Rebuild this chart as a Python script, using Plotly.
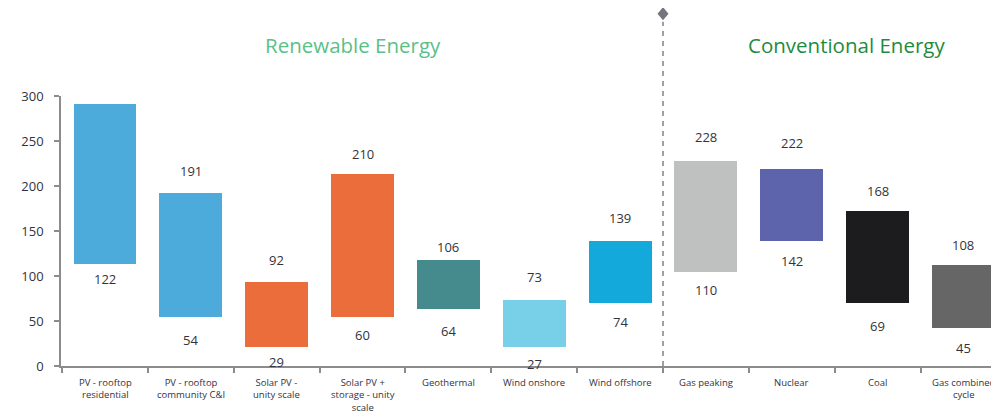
import plotly.graph_objects as go

categories = ["PV - rooftop<br>residential", "PV - rooftop<br>community C&I", "Solar PV -<br>unity scale",
              "Solar PV +<br>storage - unity<br>scale", "Geothermal", "Wind onshore", "Wind offshore",
              "Gas peaking", "Nuclear", "Coal", "Gas combined<br>cycle"]
bar_low = [113, 54, 21, 55, 63, 21, 70, 104, 139, 70, 42]
bar_high = [291, 192, 93, 213, 118, 73, 139, 228, 219, 172, 112]
label_high = [284, 191, 92, 210, 106, 73, 139, 228, 222, 168, 108]
label_low = [122, 54, 29, 60, 64, 27, 74, 110, 142, 69, 45]
colors = ["#4DABDC", "#4DABDC", "#EC6D3C", "#EC6D3C", "#458A8C", "#78CFE8", "#13A9DB",
          "#BFC1C0", "#5D64AC", "#1C1C1E", "#666666"]
y_ticks = [0, 50, 100, 150, 200, 250, 300]
group_titles = ["Renewable Energy", "Conventional Energy"]

idx = list(range(len(categories)))
FONT = "Open Sans"
TXT = "#333340"
AXC = "#8C8C8C"

fig = go.Figure()
fig.add_trace(go.Bar(
    x=idx, y=[h - l for h, l in zip(bar_high, bar_low)], base=bar_low,
    width=0.733, marker=dict(color=colors, line=dict(width=0)),
    hoverinfo="skip", showlegend=False))

annotations = []
for i in idx:
    annotations.append(dict(x=i, y=label_high[i] + 26, xref="x", yref="y", text=str(label_high[i]),
                            showarrow=False, xanchor="center", yanchor="middle",
                            font=dict(family=FONT, size=13, color=TXT)))
    annotations.append(dict(x=i, y=label_low[i] - 25, xref="x", yref="y", text=str(label_low[i]),
                            showarrow=False, xanchor="center", yanchor="middle",
                            font=dict(family=FONT, size=13, color=TXT)))
    annotations.append(dict(x=i, y=0, xref="x", yref="paper", text=categories[i], showarrow=False,
                            xanchor="center", yanchor="top", yshift=-8, align="center",
                            font=dict(family=FONT, size=9.5, color=TXT)))

annotations.append(dict(x=0.311, y=1.19, xref="paper", yref="paper", text=group_titles[0],
                        showarrow=False, xanchor="center", yanchor="middle",
                        font=dict(family=FONT, size=20.5, color="#5BBF88")))
annotations.append(dict(x=0.837, y=1.19, xref="paper", yref="paper", text=group_titles[1],
                        showarrow=False, xanchor="center", yanchor="middle",
                        font=dict(family=FONT, size=20.5, color="#238B3F")))

shapes = [
    dict(type="line", xref="x", yref="paper", x0=6.5, x1=6.5, y0=0, y1=1.275,
         line=dict(color="#808088", width=1.5, dash="5px,5px")),
    dict(type="path", xref="x", yref="paper", xsizemode="pixel", ysizemode="pixel",
         xanchor=6.5, yanchor=1.305, path="M 0 6.5 L 5.5 0 L 0 -6.5 L -5.5 0 Z",
         fillcolor="#75757D", line=dict(width=0)),
]

fig.update_layout(
    width=991, height=407,
    margin=dict(l=53, r=0, t=88, b=49),
    paper_bgcolor="white", plot_bgcolor="white",
    font=dict(family=FONT, color=TXT),
    annotations=annotations,
    shapes=shapes,
    xaxis=dict(range=[-0.5125, 10.414], tickmode="array", tickvals=idx, showticklabels=False,
               ticks="", showgrid=False, zeroline=False, showline=True, linecolor=AXC,
               linewidth=1.5,
               minor=dict(tickmode="array", tickvals=[-0.5] + [i + 0.5 for i in idx[:-1]],
                          ticks="outside", ticklen=5, tickcolor=AXC, tickwidth=1.5)),
    yaxis=dict(range=[0, 300], tickmode="array", tickvals=y_ticks, ticks="outside", ticklen=5,
               tickcolor=AXC, tickwidth=1.5, showgrid=False, zeroline=False,
               showline=True, linecolor=AXC, linewidth=1.5,
               tickfont=dict(family=FONT, size=13, color=TXT), ticklabelstandoff=8),
    bargap=0,
)

fig.write_html("out.html")
